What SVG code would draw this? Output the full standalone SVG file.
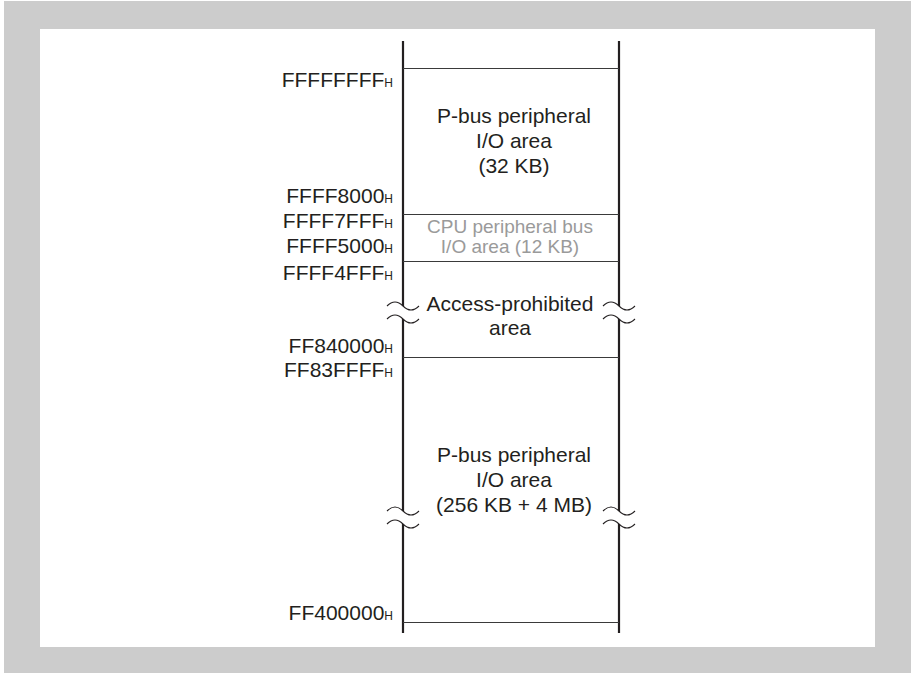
<svg xmlns="http://www.w3.org/2000/svg" xmlns:xlink="http://www.w3.org/1999/xlink" width="911" height="675" viewBox="0 0 911 675">
<style>
.t{font-family:"Liberation Sans",Arial,sans-serif;font-size:21px;fill:#231f20}
.addr{text-anchor:end}
.c{text-anchor:middle}
.g{fill:#9a9a9a;font-size:19px}
.sub{font-size:12px}
.col{stroke:#231f20;stroke-width:2.2;fill:none}
.hl{stroke:#3a3a3a;stroke-width:1.2;fill:none}
.sq{stroke:#231f20;stroke-width:1.1;fill:none}
</style>
<defs>
<g id="brk">
<path d="M-16,0 q8,-8 16,0 t16,0 v13 q-8,8 -16,0 t-16,0 z" fill="#fff" stroke="none"/>
<path class="sq" d="M-16,0 q8,-8 16,0 t16,0"/>
<path class="sq" d="M-16,13 q8,-8 16,0 t16,0"/>
</g>
</defs>
<rect x="4" y="1" width="907" height="672" fill="#cccccc"/>
<rect x="40" y="29" width="835" height="618" fill="#ffffff"/>
<g id="connectors">
<line class="col" x1="403" y1="41" x2="403" y2="633"/>
<line class="col" x1="619" y1="41" x2="619" y2="633"/>
<line class="hl" x1="403" y1="68.5" x2="619" y2="68.5"/>
<line class="hl" x1="403" y1="214.5" x2="619" y2="214.5"/>
<line class="hl" x1="403" y1="261.5" x2="619" y2="261.5"/>
<line class="hl" x1="403" y1="357.5" x2="619" y2="357.5"/>
<line class="hl" x1="403" y1="622.5" x2="619" y2="622.5"/>
<use xlink:href="#brk" x="403" y="306"/>
<use xlink:href="#brk" x="619" y="306"/>
<use xlink:href="#brk" x="403" y="511"/>
<use xlink:href="#brk" x="619" y="511"/>
</g>
<g id="addresses">
<text class="t addr" x="393" y="87">FFFFFFFF<tspan class="sub">H</tspan></text>
<text class="t addr" x="393" y="203">FFFF8000<tspan class="sub">H</tspan></text>
<text class="t addr" x="393" y="228">FFFF7FFF<tspan class="sub">H</tspan></text>
<text class="t addr" x="393" y="253">FFFF5000<tspan class="sub">H</tspan></text>
<text class="t addr" x="393" y="280">FFFF4FFF<tspan class="sub">H</tspan></text>
<text class="t addr" x="393" y="353">FF840000<tspan class="sub">H</tspan></text>
<text class="t addr" x="393" y="377">FF83FFFF<tspan class="sub">H</tspan></text>
<text class="t addr" x="393" y="620">FF400000<tspan class="sub">H</tspan></text>
</g>
<g id="area-pbus-32k">
<text class="t c" x="514" y="123">P-bus peripheral</text>
<text class="t c" x="514" y="148">I/O area</text>
<text class="t c" x="514" y="173">(32 KB)</text>
</g>
<g id="area-cpu">
<text class="t c g" x="510" y="233">CPU peripheral bus</text>
<text class="t c g" x="510" y="253">I/O area (12 KB)</text>
</g>
<g id="area-prohibited">
<text class="t c" x="510" y="311">Access-prohibited</text>
<text class="t c" x="510" y="335">area</text>
</g>
<g id="area-pbus-4m">
<text class="t c" x="514" y="462">P-bus peripheral</text>
<text class="t c" x="514" y="487">I/O area</text>
<text class="t c" x="514" y="512">(256 KB + 4 MB)</text>
</g>
</svg>
